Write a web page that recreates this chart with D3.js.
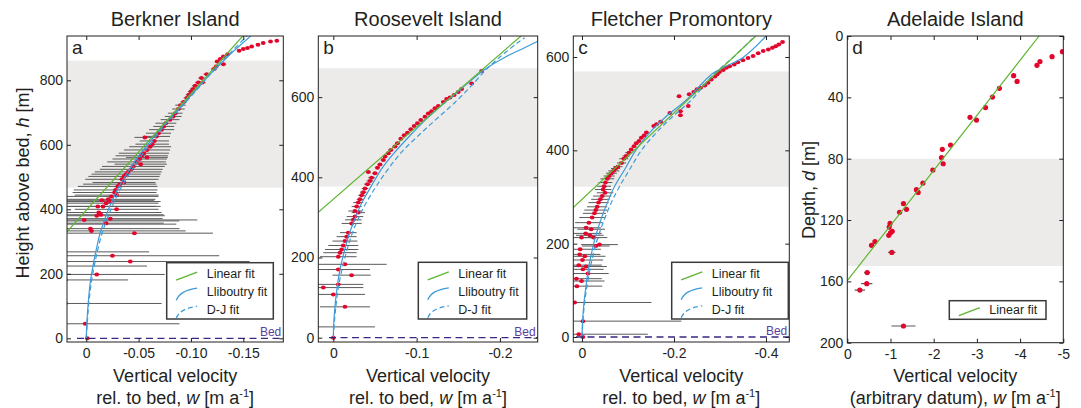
<!DOCTYPE html>
<html><head><meta charset="utf-8">
<script src="https://cdn.jsdelivr.net/npm/d3@7"></script>
<style>
body{margin:0;background:#fff}
svg{display:block}
text{font-family:"Liberation Sans",Arial,Helvetica,sans-serif;fill:#231f20}
</style>
</head><body>
<svg id="chart" width="1081" height="408"></svg>
<script>
// ---------------- DATA ----------------
const panelTitles = ["Berkner Island", "Roosevelt Island", "Fletcher Promontory", "Adelaide Island"];
const panelLetters = ["a", "b", "c", "d"];

// Panel a — Berkner Island (h: height above bed [m], w: vertical velocity [m/a], err: ± [m/a])
const aH = [923,920,916,910,905,900,897,892,881,874,866,858,850,843,835,819,807,793,793,783,773,765,755,745,733,723,711,698,688,678,667,657,647,636,626,623,612,602,594,584,574,566,561,556,547,540,533,524,516,509,502,493,483,478,471,460,452,444,440,431,428,424,419,409,409,400,390,383,380,371,367,357,340,333,326,256,238,198,45,0,364,268,224,181,108,354];
const aW = [-0.182,-0.176,-0.169,-0.164,-0.158,-0.154,-0.150,-0.146,-0.135,-0.131,-0.128,-0.125,-0.131,-0.124,-0.122,-0.115,-0.110,-0.107,-0.111,-0.104,-0.102,-0.100,-0.098,-0.096,-0.093,-0.090,-0.088,-0.085,-0.083,-0.080,-0.076,-0.074,-0.072,-0.069,-0.067,-0.056,-0.065,-0.063,-0.061,-0.058,-0.055,-0.053,-0.058,-0.051,-0.048,-0.052,-0.045,-0.043,-0.040,-0.038,-0.036,-0.034,-0.036,-0.032,-0.030,-0.028,-0.027,-0.029,-0.024,-0.021,-0.015,-0.023,-0.019,-0.016,-0.011,-0.029,-0.012,-0.014,-0.010,-0.023,0.002,-0.019,-0.004,-0.005,-0.046,-0.025,-0.042,-0.010,0.001,-0.001,0.031,0.025,0.022,0.020,0.020,0.022];
const aErr = [0.001,0.001,0.001,0.001,0.001,0.001,0.001,0.001,0.002,0.002,0.002,0.002,0.002,0.002,0.003,0.003,0.003,0.003,0.003,0.003,0.003,0.003,0.003,0.003,0.003,0.005,0.006,0.007,0.008,0.009,0.010,0.010,0.012,0.012,0.013,0.010,0.014,0.016,0.020,0.022,0.024,0.025,0.020,0.026,0.028,0.025,0.030,0.030,0.032,0.033,0.034,0.035,0.030,0.035,0.038,0.040,0.040,0.040,0.045,0.045,0.050,0.048,0.050,0.055,0.055,0.040,0.060,0.060,0.065,0.050,0.108,0.055,0.085,0.090,0.075,0.102,0.114,0.065,0.090,0,0.120,0.085,0.080,0.060,0.092,0.108];
const aLinW = [0.0185, -0.1497];
const aLinH = [330, 938];
const aLliW = [0,-0.0006,-0.0019,-0.0038,-0.0064,-0.0096,-0.0134,-0.0182,-0.0239,-0.0309,-0.0395,-0.0490,-0.0602,-0.0733,-0.0866,-0.1026,-0.1185,-0.1360,-0.1573];
const aLliH = [0,49,111,173,224,276,328,374,421,468,514,561,607,659,706,762,819,876,938];
const aDjW = [0,-0.0010,-0.0025,-0.0048,-0.0076,-0.0111,-0.0153,-0.0204,-0.0264,-0.0334,-0.0420,-0.0516,-0.0624,-0.0745,-0.0876,-0.1032,-0.1185,-0.1350,-0.1535];
const aDjH = [0,49,111,173,224,276,328,374,421,468,514,561,607,659,706,762,819,876,938];
const aBand = [467, 861];

// Panel b — Roosevelt Island
const bH = [665,634,620,613,605,599,595,588,578,572,565,559,551,543,535,528,520,511,505,496,485,477,468,460,452,443,432,424,413,410,399,391,383,372,363,355,345,337,327,316,312,302,294,285,262,252,241,230,220,212,202,183,170,156,133,125,108,77,0,27];
const bW = [-0.178,-0.166,-0.154,-0.150,-0.145,-0.140,-0.136,-0.132,-0.126,-0.122,-0.118,-0.114,-0.110,-0.105,-0.101,-0.097,-0.093,-0.089,-0.085,-0.081,-0.077,-0.074,-0.069,-0.066,-0.062,-0.060,-0.056,-0.053,-0.042,-0.050,-0.046,-0.044,-0.041,-0.038,-0.036,-0.034,-0.032,-0.030,-0.028,-0.026,-0.030,-0.026,-0.024,-0.022,-0.018,-0.016,-0.014,-0.012,-0.010,-0.008,-0.006,-0.014,-0.006,-0.022,-0.006,0.012,0.000,-0.014,0.000,0.025];
const bErr = [0.002,0.002,0.002,0.002,0.002,0.002,0.002,0.002,0.002,0.002,0.002,0.002,0.002,0.002,0.002,0.002,0.002,0.002,0.002,0.002,0.003,0.003,0.003,0.003,0.003,0.003,0.003,0.003,0.003,0.003,0.004,0.004,0.004,0.004,0.004,0.004,0.004,0.006,0.006,0.008,0.008,0.010,0.010,0.012,0.010,0.012,0.015,0.018,0.020,0.020,0.022,0.050,0.038,0.023,0.030,0.048,0.038,0.030,0,0.075];
const bLinW = [0.0184, -0.2256];
const bLinH = [312, 753];
const bLliW = [0,-0.0008,-0.0024,-0.0048,-0.0080,-0.0128,-0.0184,-0.0256,-0.0344,-0.0456,-0.0576,-0.0736,-0.0916,-0.1116,-0.1336,-0.1576,-0.1816,-0.2056,-0.2296,-0.2456];
const bLliH = [0,46,87,129,170,212,254,295,337,378,420,462,503,545,586,628,669,699,723,740];
const bDjW = [0,-0.0016,-0.0036,-0.0064,-0.0104,-0.0156,-0.0216,-0.0296,-0.0396,-0.0516,-0.0656,-0.0816,-0.1016,-0.1236,-0.1456,-0.1656,-0.1836,-0.2016,-0.2216,-0.2296];
const bDjH = [0,46,87,129,170,212,254,295,337,378,420,462,503,545,586,628,669,703,736,748];
const bBand = [377, 672];

// Panel c — Fletcher Promontory
const cH = [632,627,623,620,616,613,608,602,598,593,589,584,580,577,572,568,563,558,552,545,539,534,531,525,520,516,495,484,475,480,461,456,452,438,432,427,420,415,409,402,395,388,382,373,365,361,356,351,345,339,331,323,316,309,302,295,288,279,272,265,256,245,234,231,222,218,213,213,198,195,188,177,173,165,154,151,145,136,125,120,109,74,34,6,0];
const cW = [-0.436,-0.428,-0.421,-0.414,-0.405,-0.394,-0.383,-0.372,-0.361,-0.350,-0.339,-0.331,-0.321,-0.314,-0.307,-0.299,-0.294,-0.289,-0.281,-0.274,-0.267,-0.258,-0.250,-0.243,-0.233,-0.211,-0.231,-0.214,-0.214,-0.191,-0.171,-0.162,-0.156,-0.140,-0.135,-0.129,-0.124,-0.118,-0.113,-0.107,-0.102,-0.096,-0.091,-0.086,-0.078,-0.073,-0.069,-0.064,-0.059,-0.055,-0.051,-0.048,-0.046,-0.050,-0.044,-0.040,-0.036,-0.033,-0.030,-0.027,-0.022,-0.015,-0.009,-0.020,-0.008,-0.017,0.001,-0.025,-0.038,-0.030,0.004,0.005,-0.006,-0.001,0.007,-0.009,-0.002,-0.013,0.012,0.001,0.011,0.016,-0.002,0.007,-0.002];
const cErr = [0.002,0.002,0.002,0.002,0.002,0.002,0.002,0.002,0.002,0.002,0.002,0.002,0.002,0.002,0.002,0.002,0.002,0.002,0.002,0.002,0.002,0.002,0.002,0.002,0.002,0.002,0.002,0.002,0.002,0.002,0.004,0.004,0.004,0.004,0.004,0.004,0.004,0.004,0.004,0.004,0.008,0.008,0.010,0.010,0.010,0.010,0.012,0.012,0.012,0.015,0.015,0.015,0.018,0.018,0.020,0.020,0.022,0.022,0.025,0.025,0.028,0.030,0.032,0.030,0.035,0.030,0.040,0.030,0.040,0.030,0.045,0.045,0.045,0.045,0.050,0.045,0.045,0.045,0.055,0.050,0.055,0.167,0.214,0.150,0];
const cLinW = [0.0196, -0.3777];
const cLinH = [277, 645];
const cLliW = [0,-0.0015,-0.0044,-0.0087,-0.0138,-0.0210,-0.0297,-0.0413,-0.0551,-0.0710,-0.0928,-0.1175,-0.1472,-0.1834,-0.2269,-0.2849,-0.3502,-0.4002];
const cLliH = [0,38,74,109,145,181,216,252,288,323,359,401,438,473,508,565,599,645];
const cDjW = [0,-0.0022,-0.0058,-0.0109,-0.0174,-0.0254,-0.0355,-0.0486,-0.0638,-0.0819,-0.1037,-0.1298,-0.1617,-0.1979,-0.2378,-0.2886,-0.3284,-0.3763];
const cDjH = [0,38,74,109,145,181,216,252,288,323,359,401,438,473,508,565,599,645];
const cBand = [322, 569];

// Panel d — Adelaide Island (d: depth [m], w: vertical velocity, arbitrary datum)
const dD = [10.2,13.5,16.7,19.1,25.9,29.6,34.1,39.8,46.7,53.0,54.8,71.1,73.9,79.3,83.3,87.4,95.9,100.2,102.0,109.3,113.0,115.0,122.2,124.6,127.4,128.3,130.0,134.1,136.5,141.1,154.3,161.5,165.7,189.1];
const dW = [-4.98,-4.74,-4.46,-4.39,-3.85,-3.93,-3.52,-3.36,-3.20,-2.84,-2.99,-2.39,-2.20,-2.18,-2.22,-1.98,-1.75,-1.60,-1.64,-1.30,-1.37,-1.21,-0.99,-0.97,-1.04,-1.00,-0.96,-0.64,-0.56,-1.03,-0.46,-0.45,-0.29,-1.30];
const dErr = [0,0,0,0,0,0,0,0,0,0,0,0,0,0,0,0,0,0,0,0,0,0,0,0,0,0,0,0,0,0.085,0.07,0.13,0.12,0.28];
const dLinW = [0, -4.44];
const dLinD = [159.5, 0];
const dBand = [80, 150];

// Tick values
const aXTicks = [0, -0.05, -0.10, -0.15];
const bXTicks = [0, -0.1, -0.2];
const cXTicks = [0, -0.2, -0.4];
const dXTicks = [0, -1, -2, -3, -4, -5];
const aYTicks = [0, 200, 400, 600, 800];
const bYTicks = [0, 200, 400, 600];
const cYTicks = [0, 200, 400, 600];
const dYTicks = [0, 40, 80, 120, 160, 200];
const legendLabels = ["Linear fit", "Lliboutry fit", "D-J fit"];

// ---------------- STYLE / LAYOUT ----------------
const C = {
  red: "#e3062c", bar: "#5a5a5a", green: "#5db530", blue: "#3d9bd8",
  band: "#ecebea", bed: "#3b2784", bedText: "#5b3f9e", frame: "#231f20"
};

const zip = (xs, ys) => xs.map((v, i) => [v, ys[i]]);

const panels = [
  {x0:67, x1:283.3, y0:36, y1:342, xDom:[0.0184,-0.1882], yDom:[-11.5,937.4], depth:false,
   xt:aXTicks, yt:aYTicks, fmt:d => d === 0 ? "0" : d3.format(".2f")(d).replace("−","-"),
   pts:{h:aH,w:aW,e:aErr}, lin:zip(aLinW,aLinH), lli:zip(aLliW,aLliH), dj:zip(aDjW,aDjH), band:aBand,
   legend:{x:166.7,y:262.7,w:106.6,h:56.3}, bedStart:77},
  {x0:318.3, x1:537.7, y0:36, y1:342, xDom:[0.018,-0.2453], yDom:[-10.7,752.4], depth:false,
   xt:bXTicks, yt:bYTicks, fmt:d => d === 0 ? "0" : d3.format(".1f")(d).replace("−","-"),
   pts:{h:bH,w:bW,e:bErr}, lin:zip(bLinW,bLinH), lli:zip(bLliW,bLliH), dj:zip(bDjW,bDjH), band:bBand,
   legend:{x:418.3,y:262.3,w:108.4,h:56.7}, bedStart:329},
  {x0:573.3, x1:789.3, y0:36, y1:342, xDom:[0.0189,-0.4507], yDom:[-10.7,645], depth:false,
   xt:cXTicks, yt:cYTicks, fmt:d => d === 0 ? "0" : d3.format(".1f")(d).replace("−","-"),
   pts:{h:cH,w:cW,e:cErr}, lin:zip(cLinW,cLinH), lli:zip(cLliW,cLliH), dj:zip(cDjW,cDjH), band:cBand,
   legend:{x:671.7,y:262.3,w:116.6,h:56.7}, bedStart:576},
  {x0:847.3, x1:1063.3, y0:36, y1:342.7, xDom:[0,-5], yDom:[0,200], depth:true,
   xt:dXTicks, yt:dYTicks, fmt:d => d === 0 ? "0" : String(d).replace("−","-"),
   pts:{h:dD,w:dW,e:dErr}, lin:zip(dLinW,dLinD), lli:null, dj:null, band:dBand,
   legend:{x:949.3,y:300.7,w:96.7,h:18.6}}
];

const svg = d3.select("#chart");

panels.forEach((p, i) => {
  const x = d3.scaleLinear().domain(p.xDom).range([p.x0, p.x1]);
  const y = p.depth ? d3.scaleLinear().domain(p.yDom).range([p.y0, p.y1])
                    : d3.scaleLinear().domain(p.yDom).range([p.y1, p.y0]);
  const g = svg.append("g");
  const clipId = "clip" + i;
  svg.append("clipPath").attr("id", clipId).append("rect")
    .attr("x", p.x0).attr("y", p.y0).attr("width", p.x1 - p.x0).attr("height", p.y1 - p.y0);
  const inner = g.append("g").attr("clip-path", `url(#${clipId})`);

  // shaded band
  inner.append("rect").attr("x", p.x0).attr("width", p.x1 - p.x0)
    .attr("y", Math.min(y(p.band[0]), y(p.band[1])))
    .attr("height", Math.abs(y(p.band[0]) - y(p.band[1])))
    .attr("fill", C.band);

  const data = p.pts.h.map((h, k) => ({h, w: p.pts.w[k], e: p.pts.e[k]}));

  // error bars
  inner.selectAll("line.err").data(data.filter(d => d.e > 0)).join("line")
    .attr("x1", d => x(d.w + d.e)).attr("x2", d => x(d.w - d.e))
    .attr("y1", d => y(d.h)).attr("y2", d => y(d.h))
    .attr("stroke", C.bar).attr("stroke-width", p.depth ? 1.1 : 1);

  // dots
  inner.selectAll("ellipse.pt").data(data).join("ellipse")
    .attr("cx", d => x(d.w)).attr("cy", d => y(d.h))
    .attr("rx", p.depth ? 2.6 : 2.4).attr("ry", p.depth ? 2.6 : 2.0)
    .attr("fill", C.red);

  // fit lines
  const line = d3.line().x(d => x(d[0])).y(d => y(d[1])).curve(d3.curveCatmullRom.alpha(0.5));
  if (p.lli) {
    inner.append("path").attr("d", line(p.dj)).attr("fill", "none")
      .attr("stroke", C.blue).attr("stroke-width", 1.2).attr("stroke-dasharray", "5,3");
    inner.append("path").attr("d", line(p.lli)).attr("fill", "none")
      .attr("stroke", C.blue).attr("stroke-width", 1.2);
  }
  inner.append("path").attr("d", d3.line().x(d => x(d[0])).y(d => y(d[1]))(p.lin))
    .attr("fill", "none").attr("stroke", C.green).attr("stroke-width", 1.2);

  // bed line
  if (!p.depth) {
    inner.append("line").attr("x1", p.bedStart).attr("x2", p.x1)
      .attr("y1", y(0)).attr("y2", y(0))
      .attr("stroke", C.bed).attr("stroke-width", 1.3).attr("stroke-dasharray", "7,4.5");
    g.append("text").attr("x", p.x1 - 2).attr("y", y(0) - 2).attr("text-anchor", "end")
      .attr("font-size", 12).style("fill", C.bedText).text("Bed");
  }

  // frame
  g.append("rect").attr("x", p.x0).attr("y", p.y0)
    .attr("width", p.x1 - p.x0).attr("height", p.y1 - p.y0)
    .attr("fill", "none").attr("stroke", C.frame).attr("stroke-width", 1);

  // axes
  const styleAxis = sel => {
    sel.select(".domain").remove();
    sel.selectAll(".tick line").attr("stroke", C.frame);
    sel.selectAll(".tick text").attr("font-size", 14)
      .style("font-family", '"Liberation Sans",Arial,sans-serif').style("fill", "#231f20");
  };
  g.append("g").attr("transform", `translate(0,${p.y1})`)
    .call(d3.axisBottom(x).tickValues(p.xt).tickSize(-4).tickPadding(6).tickFormat(p.fmt)).call(styleAxis);
  g.append("g").attr("transform", `translate(0,${p.y0})`)
    .call(d3.axisTop(x).tickValues(p.xt).tickSize(-4).tickFormat("")).call(styleAxis);
  g.append("g").attr("transform", `translate(${p.x0},0)`)
    .call(d3.axisLeft(y).tickValues(p.yt).tickSize(-4).tickPadding(4).tickFormat(d3.format("d"))).call(styleAxis);
  g.append("g").attr("transform", `translate(${p.x1},0)`)
    .call(d3.axisRight(y).tickValues(p.yt).tickSize(-4).tickFormat("")).call(styleAxis);

  // title and letter
  g.append("text").attr("x", (p.x0 + p.x1) / 2).attr("y", 26).attr("text-anchor", "middle")
    .attr("font-size", 20).text(panelTitles[i]);
  g.append("text").attr("x", p.x0 + 5).attr("y", p.y0 + 18).attr("font-size", 19).text(panelLetters[i]);

  // legend
  const L = p.legend;
  const lg = g.append("g");
  lg.append("rect").attr("x", L.x).attr("y", L.y).attr("width", L.w).attr("height", L.h)
    .attr("fill", "#fff").attr("stroke", "#3a3a3a").attr("stroke-width", 1.5);
  const rows = p.depth ? [0] : [0, 1, 2];
  rows.forEach((r, k) => {
    const by = p.depth ? L.y + 13 : L.y + 15.5 + k * 18;
    const sx = L.x + 9.5;
    if (r === 0) {
      lg.append("line").attr("x1", sx).attr("y1", by + 2).attr("x2", sx + 21).attr("y2", by - 6)
        .attr("stroke", C.green).attr("stroke-width", 1.3);
    } else {
      lg.append("path").attr("d", `M${sx},${by + 4} C${sx + 3},${by - 3} ${sx + 9},${by - 6} ${sx + 21},${by - 8}`)
        .attr("fill", "none").attr("stroke", C.blue).attr("stroke-width", 1.3)
        .attr("stroke-dasharray", r === 2 ? "5,3" : null);
    }
    lg.append("text").attr("x", L.x + 40).attr("y", by).attr("font-size", 12.5).text(legendLabels[r]);
  });

  // x-axis label
  const cx = (p.x0 + p.x1) / 2;
  g.append("text").attr("x", cx).attr("y", 382).attr("text-anchor", "middle").attr("font-size", 18)
    .text("Vertical velocity");
  const t2 = g.append("text").attr("x", cx).attr("y", 403.5).attr("text-anchor", "middle").attr("font-size", 18);
  t2.append("tspan").text(p.depth ? "(arbitrary datum), " : "rel. to bed, ");
  t2.append("tspan").attr("font-style", "italic").text("w");
  t2.append("tspan").text(" [m a");
  t2.append("tspan").attr("font-size", 11).attr("dy", -7).text("-1");
  t2.append("tspan").attr("dy", 7).text("]");
});

// y-axis labels
const yl1 = svg.append("text").attr("transform", "translate(28.5,183) rotate(-90)")
  .attr("text-anchor", "middle").attr("font-size", 18);
yl1.append("tspan").text("Height above bed, ");
yl1.append("tspan").attr("font-style", "italic").text("h");
yl1.append("tspan").text(" [m]");

const yl2 = svg.append("text").attr("transform", "translate(815,190) rotate(-90)")
  .attr("text-anchor", "middle").attr("font-size", 18);
yl2.append("tspan").text("Depth, ");
yl2.append("tspan").attr("font-style", "italic").text("d");
yl2.append("tspan").text(" [m]");
</script>
</body></html>
